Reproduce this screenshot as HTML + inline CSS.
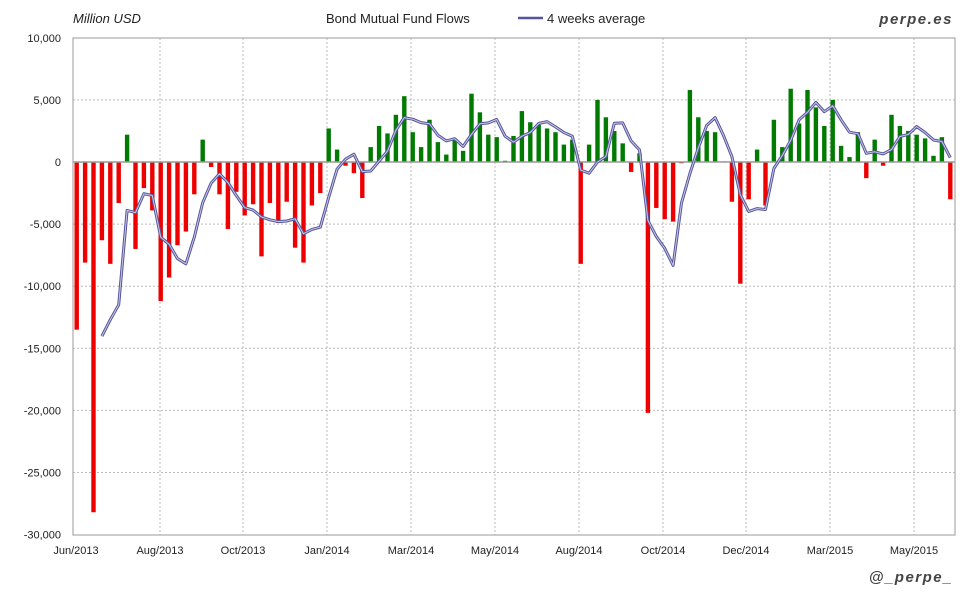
<!DOCTYPE html>
<html><head><meta charset="utf-8"><style>
html,body{margin:0;padding:0;background:#fff;}
svg text{font-family:"Liberation Sans",sans-serif;}
</style></head><body>
<svg id="s" width="980" height="600" xmlns="http://www.w3.org/2000/svg">
<rect width="980" height="600" fill="#fff"/>
<g id="grid"></g>
<g id="bars"></g>
<line x1="73" y1="162" x2="955" y2="162" stroke="#999" stroke-width="1.5"/>
<rect x="73" y="38" width="882" height="497" fill="none" stroke="#aaa" stroke-width="1.2"/>
<g id="line"></g>
<g id="labels" font-size="11" fill="#222"></g>
<text x="73" y="23" font-size="13" font-style="italic" fill="#222">Million USD</text>
<text x="326" y="23" font-size="13" fill="#222">Bond Mutual Fund Flows</text>
<line x1="518" y1="18" x2="543" y2="18" stroke="#55559a" stroke-width="2.5"/>
<text x="547" y="23" font-size="13" fill="#222">4 weeks average</text>
<text x="953" y="24" font-size="15" font-weight="bold" font-style="italic" fill="#444" text-anchor="end" letter-spacing="1.5">perpe.es</text>
<text x="953" y="582" font-size="15" font-weight="bold" font-style="italic" fill="#444" text-anchor="end" letter-spacing="1.5">@_perpe_</text>
</svg>
<script>
var v=[-13.5,-8.1,-28.2,-6.3,-8.2,-3.3,2.2,-7.0,-2.1,-3.9,-11.2,-9.3,-6.7,-5.6,-2.6,1.8,-0.4,-2.6,-5.4,-2.4,-4.3,-3.4,-7.6,-3.3,-4.9,-3.2,-6.9,-8.1,-3.5,-2.5,2.7,1.0,-0.3,-0.9,-2.9,1.2,2.9,2.3,
3.8,5.3,2.4,1.2,3.4,1.6,0.6,1.9,0.9,5.5,4.0,2.2,2.0,0.1,2.1,4.1,3.2,3.0,2.7,2.4,1.4,1.8,-8.2,1.4,5.0,3.6,2.5,1.5,-0.8,0.7,-20.2,-3.7,-4.6,-4.8,-0.1,5.8,3.6,2.5,2.4,0.05,-3.2,-9.8,-3.0,1.0,-3.5,3.4,1.2,5.9,3.1,5.8,4.4,2.9,5.0,1.3,0.4,2.4,-1.3,1.8,-0.3,3.8,2.9,2.5,2.2,1.9,0.5,2.0,-3.0];
var NS="http://www.w3.org/2000/svg";
function el(t,a,p){var e=document.createElementNS(NS,t);for(var k in a)e.setAttribute(k,a[k]);document.getElementById(p).appendChild(e);return e;}
function Y(val){return 162-val*12.42;}
function X(i){return 76.7+8.4*i;}
// horizontal grid + y labels
for(var k=10;k>=-30;k-=5){var y=Y(k);
 if(k!=10&&k!=-30&&k!=0) el("line",{x1:73,x2:955,y1:y,y2:y,stroke:"#bbb","stroke-dasharray":"2,2"},"grid");
 var t=el("text",{x:61,y:y+4,"text-anchor":"end"},"labels");t.textContent=(k==0?"0":(k<0?"-":"")+Math.abs(k)+",000");}
var xl=[["Jun/2013",76],["Aug/2013",160],["Oct/2013",243],["Jan/2014",327],["Mar/2014",411],["May/2014",495],["Aug/2014",579],["Oct/2014",663],["Dec/2014",746],["Mar/2015",830],["May/2015",914]];
xl.forEach(function(d,i){ if(i>0) el("line",{x1:d[1],x2:d[1],y1:38,y2:535,stroke:"#bbb","stroke-dasharray":"2,2"},"grid");
 var t=el("text",{x:d[1],y:554,"text-anchor":"middle"},"labels");t.textContent=d[0];});
v.forEach(function(val,i){var y=Y(val);
 el("rect",{x:X(i)-2.2,y:Math.min(y,162),width:4.4,height:Math.abs(y-162),fill:val<0?"#ee0000":"#007a00"},"bars");});
var pts=[];for(var i=3;i<v.length;i++){var a=(v[i]+v[i-1]+v[i-2]+v[i-3])/4;pts.push(X(i).toFixed(1)+","+Y(a).toFixed(1));}
el("polyline",{points:pts.join(" "),fill:"none",stroke:"#55559a","stroke-width":3,"stroke-linejoin":"round"},"line");
el("polyline",{points:pts.join(" "),fill:"none",stroke:"#c8c8e8","stroke-width":1,"stroke-linejoin":"round"},"line");
</script>
</body></html>
